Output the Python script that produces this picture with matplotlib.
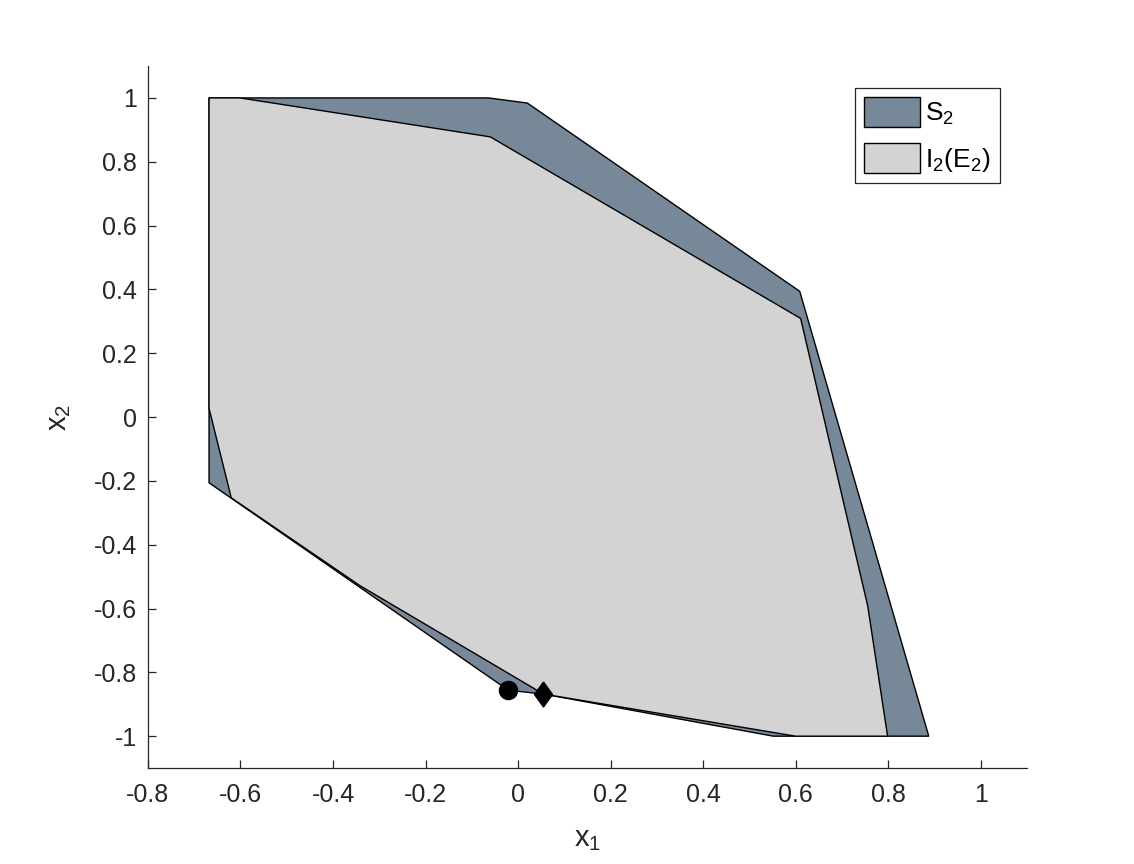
import matplotlib
matplotlib.use("Agg")
import matplotlib.pyplot as plt
from matplotlib.patches import Polygon, Patch

plt.rcParams['font.family'] = ['Liberation Sans', 'DejaVu Sans']
plt.rcParams['mathtext.fontset'] = 'custom'
plt.rcParams['mathtext.rm'] = 'Liberation Sans'
plt.rcParams['mathtext.it'] = 'Liberation Sans'
plt.rcParams['mathtext.bf'] = 'Liberation Sans'

# S2 polygon vertices
s2_x = [-0.668, -0.064, 0.020, 0.609, 0.888, 0.552, 0.055, -0.021, -0.668]
s2_y = [1.000, 1.000, 0.984, 0.394, -1.000, -1.000, -0.868, -0.856, -0.206]

# I2(E2) polygon vertices
i2_x = [-0.668, -0.601, -0.060, 0.611, 0.756, 0.799, 0.600, 0.055, -0.341, -0.620, -0.668]
i2_y = [1.000, 1.000, 0.878, 0.309, -0.592, -1.000, -1.000, -0.868, -0.529, -0.253, 0.027]

circle_pt = (-0.021, -0.856)
diamond_pt = (0.055, -0.868)

xticks = [-0.8, -0.6, -0.4, -0.2, 0, 0.2, 0.4, 0.6, 0.8, 1]
yticks = [-1, -0.8, -0.6, -0.4, -0.2, 0, 0.2, 0.4, 0.6, 0.8, 1]

fig = plt.figure(figsize=(11.34, 8.64), dpi=100)
ax = fig.add_axes([0.1305, 0.111, 0.775, 0.8126])

c_s2 = '#778899'
c_i2 = '#d3d3d3'
ax.add_patch(Polygon(list(zip(s2_x, s2_y)), closed=True, facecolor=c_s2, edgecolor='black', lw=1.0))
ax.add_patch(Polygon(list(zip(i2_x, i2_y)), closed=True, facecolor=c_i2, edgecolor='black', lw=1.0))

diamond = [(0, 1), (0.72, 0), (0, -1), (-0.72, 0), (0, 1)]
ax.plot([circle_pt[0]], [circle_pt[1]], 'o', color='black', markersize=13)
ax.plot([diamond_pt[0]], [diamond_pt[1]], marker=diamond, linestyle='none', color='black', markersize=18)

ax.set_xlim(-0.8, 1.1)
ax.set_ylim(-1.1, 1.1)
ax.set_xticks(xticks)
ax.set_yticks(yticks)
ax.set_xticklabels([('%g' % v) for v in xticks])
ax.set_yticklabels([('%g' % v) for v in yticks])
for s in ['top', 'right']:
    ax.spines[s].set_visible(False)
for s in ['left', 'bottom']:
    ax.spines[s].set_color('#262626')
    ax.spines[s].set_linewidth(0.9)
ax.tick_params(direction='in', labelsize=18, colors='#262626', length=5.5, width=0.9)
ax.tick_params(axis='x', pad=11)
ax.tick_params(axis='y', pad=8)
ax.set_xlabel('$\\mathregular{x_1}$', fontsize=21, color='#262626', labelpad=13)
ax.set_ylabel('$\\mathregular{x_2}$', fontsize=21, color='#262626', labelpad=15)

handles = [Patch(facecolor=c_s2, edgecolor='black', lw=1.0, label='$\\mathregular{S_2}$'),
           Patch(facecolor=c_i2, edgecolor='black', lw=1.0, label='$\\mathregular{I_2(E_2)}$')]
leg = ax.legend(handles=handles, loc='upper right', bbox_to_anchor=(0.969, 0.969),
                borderaxespad=0, fontsize=19, fancybox=False, edgecolor='#262626', framealpha=1,
                handlelength=2.1, handleheight=1.35, borderpad=0.35, labelspacing=0.62,
                handletextpad=0.2)
leg.get_frame().set_linewidth(0.9)

fig.savefig('out.png', dpi=100)
